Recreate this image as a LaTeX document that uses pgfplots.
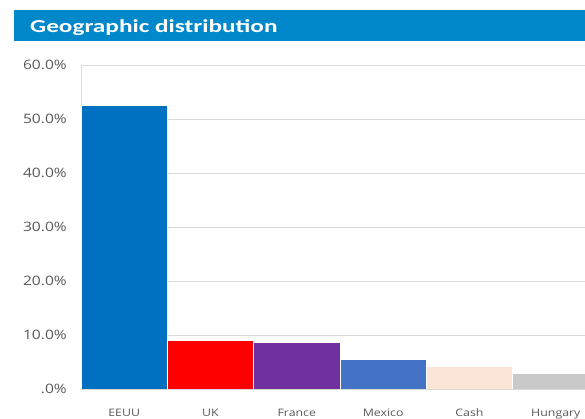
\documentclass[border=0pt]{standalone}
\usepackage{fontspec}
\setmainfont{Open Sans}[FakeStretch=1.2]
\newfontfamily\titlefont{Carlito}[FakeStretch=1.38]
\usepackage{pgfplots}
\pgfplotsset{compat=1.18}
\definecolor{titleblue}{HTML}{0088CB}
\definecolor{gridgrey}{HTML}{D9D9D9}
\definecolor{labelgrey}{HTML}{595959}
\definecolor{cEEUU}{HTML}{0070C0}
\definecolor{cUK}{HTML}{FF0000}
\definecolor{cFrance}{HTML}{7030A0}
\definecolor{cMexico}{HTML}{4472C4}
\definecolor{cCash}{HTML}{FBE5D6}
\definecolor{cHungary}{HTML}{C9C9C9}
\begin{document}
\begin{tikzpicture}[x=1pt,y=1pt]
\fill[titleblue] (14,378) rectangle (600,408.7);
\node[anchor=base west, inner sep=0pt, text=white, font=\titlefont\bfseries\fontsize{18.3}{18}\selectfont] at (30,386.8) {Geographic distribution};
\begin{axis}[
  at={(81pt,30pt)}, anchor=south west,
  scale only axis, width=518pt, height=324pt,
  xmin=-0.5, xmax=5.5, ymin=0, ymax=60,
  ybar, bar width=86.33pt,
  xtick={0,1,2,3,4,5},
  xticklabels={EEUU,UK,France,Mexico,Cash,Hungary},
  ytick={0,10,20,30,40,50,60},
  yticklabels={.0\%,10.0\%,20.0\%,30.0\%,40.0\%,50.0\%,60.0\%},
  ymajorgrids, major grid style={draw=gridgrey, line width=0.8pt},
  axis line style={draw=gridgrey, line width=0.8pt},
  major tick length=0pt,
  yticklabel style={font=\fontsize{13}{13}\selectfont, text=labelgrey, inner sep=0pt, anchor=east, xshift=-14pt},
  xticklabel style={font=\fontsize{10.3}{11}\selectfont, text=labelgrey, inner sep=0pt, anchor=base, yshift=-28pt},
  /pgf/number format/assume math mode=true,
]
\addplot[fill=cEEUU, draw=white, line width=0.8pt, bar shift=0pt] coordinates {(0,52.6)};
\addplot[fill=cUK, draw=white, line width=0.8pt, bar shift=0pt] coordinates {(1,9.0)};
\addplot[fill=cFrance, draw=white, line width=0.8pt, bar shift=0pt] coordinates {(2,8.7)};
\addplot[fill=cMexico, draw=white, line width=0.8pt, bar shift=0pt] coordinates {(3,5.5)};
\addplot[fill=cCash, draw=white, line width=0.8pt, bar shift=0pt] coordinates {(4,4.1)};
\addplot[fill=cHungary, draw=white, line width=0.8pt, bar shift=0pt] coordinates {(5,2.8)};
\end{axis}
\pgfresetboundingbox
\path[use as bounding box] (0,0) rectangle (585,419);
\end{tikzpicture}
\end{document}
